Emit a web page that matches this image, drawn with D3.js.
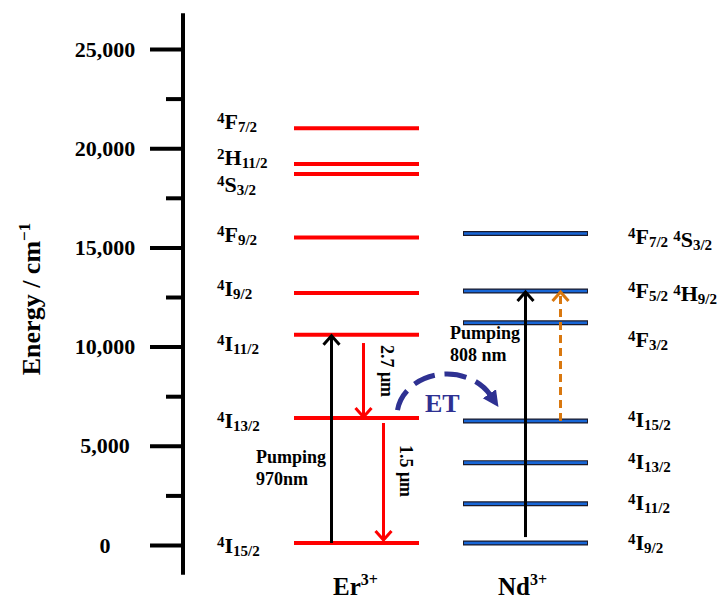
<!DOCTYPE html>
<html lang="en"><head>
<meta charset="utf-8">
<title>Er / Nd energy levels</title>
<script src="https://cdn.jsdelivr.net/npm/d3@7"></script>
<style>
body { margin: 0; background: #fff; }
text { font-family: "Liberation Serif", "Times New Roman", serif; font-weight: bold; }
</style>
</head>
<body>
<script type="text/javascript">

var width = 720;
var height = 599;

// axis
var majorTicks = [0, 5000, 10000, 15000, 20000, 25000];
var minorTicks = [2500, 7500, 12500, 17500, 22500];

// Er3+ levels (cm-1) and term symbols [sup, letter, sub]
var erEnergies = [21000, 19200, 18700, 15500, 12700, 10600, 6400, 100];
var erTerms = [
    [["4", "F", "7/2"]],
    [["2", "H", "11/2"]],
    [["4", "S", "3/2"]],
    [["4", "F", "9/2"]],
    [["4", "I", "9/2"]],
    [["4", "I", "11/2"]],
    [["4", "I", "13/2"]],
    [["4", "I", "15/2"]]
];

// Nd3+ levels
var ndEnergies = [15700, 12800, 11200, 6250, 4150, 2080, 100];
var ndTerms = [
    [["4", "F", "7/2"], ["4", "S", "3/2"]],
    [["4", "F", "5/2"], ["4", "H", "9/2"]],
    [["4", "F", "3/2"]],
    [["4", "I", "15/2"]],
    [["4", "I", "13/2"]],
    [["4", "I", "11/2"]],
    [["4", "I", "9/2"]]
];

// transitions: ion, start energy, end energy, kind
var transitions = [
    {ion: "Er", from: 100, to: 10600, kind: "pump"},
    {ion: "Er", from: 10180, to: 6400, kind: "emit"},
    {ion: "Er", from: 6150, to: 200, kind: "emit"},
    {ion: "Nd", from: 400, to: 12800, kind: "pump"},
    {ion: "Nd", from: 6250, to: 12800, kind: "et"}
];
var transitionText = ["Pumping|970nm", "2.7 μm", "1.5 μm", "Pumping|808 nm", ""];

// layout only
var erLabelDy = [1, 1, 18, 5, 3, 16, 10, 10];
var ndLabelDy = [10, 7, 24, 6, 6, 6, 7];
var transDx = [-25, 7, 27, 0, 35];

var svg = d3.select("body").append("svg")
    .attr("width", width)
    .attr("height", height);

var y = d3.scaleLinear().domain([0, 25000]).range([545, 49]);
var x = d3.scalePoint().domain(["Er", "Nd"]).range([356.5, 525.5]);
var halfLen = 62.5;
var axisX = 183;

// ----- axis
var gAxis = svg.append("g").attr("transform", "translate(" + axisX + ",0)");
gAxis.append("line")
    .attr("y1", y(-1500)).attr("y2", y(26800))
    .attr("stroke", "#000").attr("stroke-width", 4);

gAxis.append("g")
    .call(d3.axisLeft(y).tickValues(minorTicks).tickSize(17).tickFormat(""))
    .call(g => g.select(".domain").remove())
    .selectAll("line").attr("stroke-width", 4);

gAxis.append("g")
    .call(d3.axisLeft(y).tickValues(majorTicks).tickSize(33).tickFormat(d3.format(",")))
    .call(g => g.select(".domain").remove())
    .call(g => g.selectAll("line").attr("stroke-width", 4))
    .call(g => g.selectAll("text")
        .attr("x", -78)
        .attr("text-anchor", "middle")
        .attr("fill", "#000")
        .style("font-family", "'Liberation Serif', 'Times New Roman', serif")
        .style("font-weight", "bold")
        .style("font-size", "22px"));

var title = svg.append("text")
    .attr("transform", "translate(40,299) rotate(-90)")
    .attr("text-anchor", "middle")
    .style("font-size", "26px");
title.append("tspan").text("Energy / cm");
title.append("tspan").attr("dy", -10).style("font-size", "17px").text("−1");

// ----- term label helper
function termLabel(sel, parts) {
    parts.forEach((p, i) => {
        sel.append("tspan").attr("dy", -6).attr("dx", i > 0 ? 5 : 0)
            .style("font-size", "15px").text(p[0]);
        sel.append("tspan").attr("dy", 6).style("font-size", "22px").text(p[1]);
        sel.append("tspan").attr("dy", 3).style("font-size", "15px").text(p[2]);
        sel.append("tspan").attr("dy", -3).text("");
    });
}

// ----- Er levels
svg.append("g").selectAll("line")
    .data(erEnergies)
    .enter().append("line")
    .attr("x1", x("Er") - halfLen).attr("x2", x("Er") + halfLen)
    .attr("y1", d => y(d)).attr("y2", d => y(d))
    .attr("stroke", "#ff0000").attr("stroke-width", 4);

erEnergies.forEach((e, i) => {
    var t = svg.append("text").attr("x", 217).attr("y", y(e) + erLabelDy[i]);
    termLabel(t, erTerms[i]);
});

// ----- Nd levels
var gNd = svg.append("g");
gNd.selectAll("line.o")
    .data(ndEnergies)
    .enter().append("line").attr("class", "o")
    .attr("x1", x("Nd") - halfLen).attr("x2", x("Nd") + halfLen)
    .attr("y1", d => y(d)).attr("y2", d => y(d))
    .attr("stroke", "#1a1a2a").attr("stroke-width", 5);
gNd.selectAll("line.i")
    .data(ndEnergies)
    .enter().append("line").attr("class", "i")
    .attr("x1", x("Nd") - halfLen + 1).attr("x2", x("Nd") + halfLen - 1)
    .attr("y1", d => y(d)).attr("y2", d => y(d))
    .attr("stroke", "#1866d6").attr("stroke-width", 2.6);

ndEnergies.forEach((e, i) => {
    var t = svg.append("text").attr("x", 628).attr("y", y(e) + ndLabelDy[i]);
    termLabel(t, ndTerms[i]);
});

// ----- transition arrows
var colors = {pump: "#000", emit: "#ff0000", et: "#d9780f"};
transitions.forEach((d, i) => {
    var ax = x(d.ion) + transDx[i];
    var y1 = y(d.from), y2 = y(d.to);
    var dir = y2 < y1 ? 1 : -1;   // 1 = upward arrow
    var c = colors[d.kind];
    svg.append("line")
        .attr("x1", ax).attr("x2", ax)
        .attr("y1", y1).attr("y2", y2 + dir * 2)
        .attr("stroke", c).attr("stroke-width", 3)
        .attr("stroke-dasharray", d.kind == "et" ? "8,5" : null);
    svg.append("path")
        .attr("d", "M" + (ax - 8) + "," + (y2 + dir * 10) + " L" + ax + "," + (y2 + dir * 1) + " L" + (ax + 8) + "," + (y2 + dir * 10))
        .attr("fill", "none").attr("stroke", c).attr("stroke-width", 3);
});

// pumping text
[[0, 256, 463], [3, 450, 339]].forEach(p => {
    var lines = transitionText[p[0]].split("|");
    lines.forEach((s, k) => {
        svg.append("text").attr("x", p[1]).attr("y", p[2] + k * 22)
            .style("font-size", "18px").text(s);
    });
});

// wavelength labels (rotated)
[[1, 381, 371], [2, 400, 471]].forEach(p => {
    svg.append("text")
        .attr("transform", "translate(" + p[1] + "," + p[2] + ") rotate(90)")
        .attr("text-anchor", "middle")
        .style("font-size", "18px")
        .text(transitionText[p[0]]);
});

// ----- energy transfer arc
var etColor = "#2e3192";
svg.append("defs").append("marker")
    .attr("id", "etHead")
    .attr("viewBox", "0 0 10 10")
    .attr("refX", 1).attr("refY", 5)
    .attr("markerWidth", 3.2).attr("markerHeight", 3.4)
    .attr("markerUnits", "strokeWidth")
    .attr("orient", "auto")
    .append("path").attr("d", "M0,0 L10,5 L0,10 Z").attr("fill", etColor);

var cx = 447, cy = y(6400) - 2, rx = 50, ry = 42;
var a0 = 172 * Math.PI / 180, a1 = 30 * Math.PI / 180;
svg.append("path")
    .attr("d", "M" + (cx + rx * Math.cos(a0)) + "," + (cy - ry * Math.sin(a0)) +
        " A" + rx + "," + ry + " 0 0 1 " + (cx + rx * Math.cos(a1)) + "," + (cy - ry * Math.sin(a1)))
    .attr("fill", "none")
    .attr("stroke", etColor).attr("stroke-width", 5)
    .attr("stroke-dasharray", "22,10")
    .attr("marker-end", "url(#etHead)");

svg.append("text").attr("x", 425).attr("y", 412)
    .attr("fill", etColor).style("font-size", "26px").text("ET");

// ----- ion labels
[["Er", 333], ["Nd", 498]].forEach(p => {
    var t = svg.append("text").attr("x", p[1]).attr("y", 595).style("font-size", "25px");
    t.append("tspan").text(p[0]);
    t.append("tspan").attr("dy", -10).style("font-size", "16px").text("3+");
});

</script>
</body></html>
